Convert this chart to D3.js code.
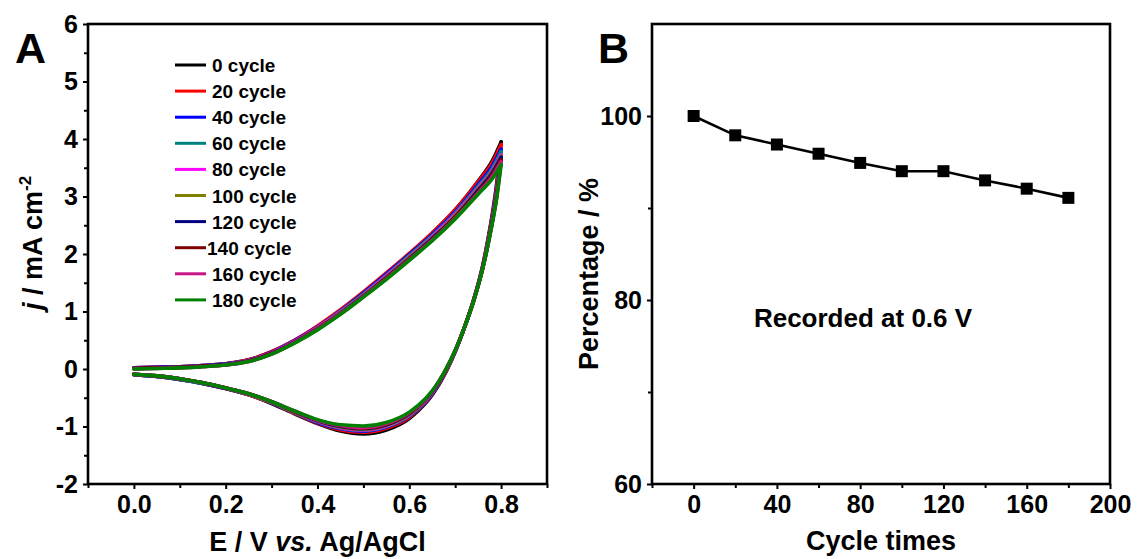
<!DOCTYPE html>
<html>
<head>
<meta charset="utf-8">
<script src="https://cdn.jsdelivr.net/npm/d3@7"></script>
<style>
  body { margin: 0; background: #fff; }
  text { font-family: "Liberation Sans", Arial, sans-serif; font-weight: bold; fill: #000; }
</style>
</head>
<body>
<script>
// data

// panel A: cyclic voltammograms
var cycles = [0, 20, 40, 60, 80, 100, 120, 140, 160, 180];
var cycleColors = ["#000000", "#ff0000", "#0000ff", "#008080", "#ff00ff", "#808000", "#000080", "#800000", "#c71585", "#008000"];

var scanUp = [0, 0.05, 0.1, 0.15, 0.2, 0.25, 0.3, 0.35, 0.4, 0.45, 0.5, 0.55, 0.6, 0.65, 0.7, 0.75, 0.78, 0.8];
var jUp = [
  [0.02,0.03,0.04,0.06,0.09,0.16,0.30,0.50,0.74,1.02,1.33,1.66,2.00,2.36,2.77,3.27,3.61,3.95],
  [0.02,0.03,0.04,0.06,0.09,0.16,0.30,0.50,0.75,1.03,1.34,1.67,2.01,2.37,2.77,3.26,3.58,3.90],
  [0.02,0.03,0.04,0.06,0.09,0.15,0.29,0.49,0.73,1.01,1.32,1.65,1.99,2.34,2.73,3.21,3.52,3.82],
  [0.01,0.02,0.03,0.05,0.08,0.15,0.28,0.48,0.72,1.00,1.30,1.63,1.97,2.32,2.71,3.18,3.48,3.78],
  [0.01,0.02,0.03,0.05,0.08,0.15,0.28,0.48,0.72,0.99,1.29,1.62,1.95,2.30,2.69,3.15,3.44,3.72],
  [0.01,0.02,0.03,0.05,0.08,0.14,0.27,0.47,0.71,0.98,1.28,1.60,1.94,2.28,2.67,3.13,3.42,3.70],
  [0.01,0.02,0.03,0.05,0.08,0.14,0.27,0.47,0.70,0.97,1.27,1.59,1.92,2.27,2.65,3.11,3.40,3.68],
  [0.01,0.02,0.03,0.05,0.07,0.14,0.27,0.46,0.70,0.96,1.26,1.58,1.91,2.25,2.64,3.08,3.37,3.64],
  [0.00,0.01,0.02,0.04,0.07,0.13,0.26,0.46,0.69,0.96,1.26,1.57,1.90,2.24,2.62,3.06,3.34,3.60],
  [0.00,0.01,0.02,0.04,0.07,0.13,0.26,0.45,0.68,0.95,1.25,1.56,1.89,2.23,2.61,3.04,3.30,3.55]
];

var scanDown = [0.8, 0.79, 0.78, 0.77, 0.76, 0.74, 0.72, 0.7, 0.68, 0.65, 0.62, 0.6, 0.55, 0.5, 0.45, 0.4, 0.35, 0.3, 0.25, 0.2, 0.15, 0.1, 0.05, 0];
var jDown = [
  [3.95,3.20,2.65,2.20,1.80,1.20,0.72,0.30,-0.05,-0.45,-0.72,-0.86,-1.06,-1.13,-1.08,-0.95,-0.78,-0.60,-0.45,-0.34,-0.25,-0.18,-0.13,-0.10],
  [3.90,3.16,2.62,2.18,1.79,1.20,0.72,0.31,-0.04,-0.44,-0.70,-0.84,-1.03,-1.10,-1.06,-0.94,-0.77,-0.59,-0.45,-0.34,-0.25,-0.18,-0.13,-0.10],
  [3.82,3.10,2.59,2.16,1.78,1.19,0.72,0.31,-0.03,-0.43,-0.69,-0.82,-1.01,-1.08,-1.04,-0.93,-0.76,-0.59,-0.44,-0.34,-0.25,-0.18,-0.13,-0.10],
  [3.78,3.07,2.57,2.15,1.77,1.19,0.72,0.31,-0.03,-0.42,-0.68,-0.81,-1.00,-1.07,-1.03,-0.92,-0.76,-0.58,-0.44,-0.33,-0.25,-0.18,-0.13,-0.10],
  [3.72,3.04,2.56,2.14,1.77,1.19,0.72,0.31,-0.02,-0.41,-0.67,-0.80,-0.99,-1.06,-1.02,-0.91,-0.75,-0.58,-0.44,-0.33,-0.24,-0.17,-0.12,-0.09],
  [3.70,3.02,2.55,2.13,1.76,1.18,0.72,0.32,-0.02,-0.40,-0.66,-0.79,-0.98,-1.05,-1.01,-0.90,-0.75,-0.58,-0.44,-0.33,-0.24,-0.17,-0.12,-0.09],
  [3.68,3.01,2.54,2.12,1.76,1.18,0.72,0.32,-0.01,-0.40,-0.65,-0.78,-0.97,-1.04,-1.00,-0.90,-0.74,-0.57,-0.43,-0.33,-0.24,-0.17,-0.12,-0.09],
  [3.64,2.99,2.53,2.12,1.76,1.18,0.72,0.32,-0.01,-0.39,-0.65,-0.77,-0.96,-1.03,-0.99,-0.89,-0.74,-0.57,-0.43,-0.33,-0.24,-0.17,-0.12,-0.09],
  [3.60,2.97,2.51,2.11,1.75,1.18,0.72,0.32,0.00,-0.39,-0.64,-0.76,-0.95,-1.02,-0.98,-0.89,-0.73,-0.57,-0.43,-0.33,-0.24,-0.17,-0.12,-0.09],
  [3.55,2.95,2.50,2.10,1.75,1.18,0.72,0.32,0.00,-0.38,-0.63,-0.75,-0.93,-0.99,-0.97,-0.88,-0.73,-0.57,-0.43,-0.33,-0.24,-0.17,-0.12,-0.09]
];

var potentialTicks = [0, 0.2, 0.4, 0.6, 0.8];
var currentTicks = [-2, -1, 0, 1, 2, 3, 4, 5, 6];

// panel B: retention
var retentionCycles = [0, 20, 40, 60, 80, 100, 120, 140, 160, 180];
var retention = [100, 97.9, 96.9, 95.9, 94.9, 94.0, 94.0, 93.0, 92.1, 91.1];
var cycleTicks = [0, 40, 80, 120, 160, 200];
var percentTicks = [60, 80, 100];

var width = 1138, height = 559;
var svg = d3.select("body").append("svg").attr("width", width).attr("height", height);

var plotTop = 24, plotBottom = 484;
var tickFont = 25, labelFont = 27;

// plain hyphen for negatives, like the original
function plain(d) { return String(d); }

function frame(g, x0, x1) {
  g.append("rect").attr("x", x0).attr("y", plotTop).attr("width", x1 - x0).attr("height", plotBottom - plotTop)
    .attr("fill", "none").attr("stroke", "#000").attr("stroke-width", 2.6);
}

function styleAxis(sel) {
  sel.select(".domain").remove();
  sel.selectAll(".tick line").attr("stroke", "#000").attr("stroke-width", 2);
  sel.selectAll(".tick text").style("font-size", tickFont + "px").style("font-family", '"Liberation Sans", Arial, sans-serif').style("font-weight", "bold").attr("fill", "#000");
}

// ---------- panel A ----------
var xA = d3.scaleLinear().domain([-0.1, 0.9]).range([88, 547]);
var yA = d3.scaleLinear().domain([-2, 6]).range([plotBottom, plotTop]);

var gA = svg.append("g");

gA.append("g").attr("transform", "translate(0," + plotBottom + ")")
  .call(d3.axisBottom(xA).tickValues([-0.1, 0.1, 0.3, 0.5, 0.7, 0.9]).tickSize(4).tickFormat(""))
  .call(styleAxis);
gA.append("g").attr("transform", "translate(88,0)")
  .call(d3.axisLeft(yA).tickValues([-1.5, -0.5, 0.5, 1.5, 2.5, 3.5, 4.5, 5.5]).tickSize(4).tickFormat(""))
  .call(styleAxis);

gA.append("g").attr("transform", "translate(0," + plotBottom + ")")
  .call(d3.axisBottom(xA).tickValues(potentialTicks).tickSize(5).tickPadding(6).tickFormat(d3.format(".1f")))
  .call(styleAxis);
gA.append("g").attr("transform", "translate(88,0)")
  .call(d3.axisLeft(yA).tickValues(currentTicks).tickSize(5).tickPadding(5).tickFormat(plain))
  .call(styleAxis);

var lineA = d3.line().x(function(d){ return xA(d[0]); }).y(function(d){ return yA(d[1]); })
  .curve(d3.curveMonotoneX);

cycles.forEach(function(c, i) {
  var up = scanUp.map(function(e, k){ return [e, jUp[i][k]]; });
  var down = scanDown.map(function(e, k){ return [e, jDown[i][k]]; }).reverse();
  [up, down].forEach(function(pts) {
    gA.append("path").attr("d", lineA(pts))
      .attr("fill", "none").attr("stroke", cycleColors[i]).attr("stroke-width", 3.6)
      .attr("stroke-linecap", "round").attr("stroke-linejoin", "round");
  });
});

frame(gA, 88, 547);

// legend
var legend = gA.append("g");
cycles.forEach(function(c, i) {
  var ly = 65 + i * 26.1;
  legend.append("line").attr("x1", 175).attr("x2", 206).attr("y1", ly).attr("y2", ly)
    .attr("stroke", cycleColors[i]).attr("stroke-width", 3);
  legend.append("text").attr("x", c == 140 ? 207 : 212).attr("y", ly + 7).style("font-size", "19px")
    .text(c + " cycle");
});

gA.append("text").attr("x", 15).attr("y", 63).style("font-size", "43px").text("A");

var xlabA = gA.append("text").attr("x", 317.5).attr("y", 551).attr("text-anchor", "middle").style("font-size", labelFont + "px");
xlabA.append("tspan").text("E / V ");
xlabA.append("tspan").style("font-style", "italic").text("vs.");
xlabA.append("tspan").text(" Ag/AgCl");

var ylabA = gA.append("text").attr("transform", "translate(42,243) rotate(-90)").attr("text-anchor", "middle").style("font-size", labelFont + "px");
ylabA.append("tspan").style("font-style", "italic").text("j");
ylabA.append("tspan").text(" / mA cm");
ylabA.append("tspan").attr("dy", -11).style("font-size", "17px").text("-2");

// ---------- panel B ----------
var xB = d3.scaleLinear().domain([-20, 200]).range([652, 1110]);
var yB = d3.scaleLinear().domain([60, 110]).range([plotBottom, plotTop]);

var gB = svg.append("g");

gB.append("g").attr("transform", "translate(0," + plotBottom + ")")
  .call(d3.axisBottom(xB).tickValues([-20, 20, 60, 100, 140, 180]).tickSize(4).tickFormat(""))
  .call(styleAxis);
gB.append("g").attr("transform", "translate(652,0)")
  .call(d3.axisLeft(yB).tickValues([70, 90]).tickSize(4).tickFormat(""))
  .call(styleAxis);

gB.append("g").attr("transform", "translate(0," + plotBottom + ")")
  .call(d3.axisBottom(xB).tickValues(cycleTicks).tickSize(5).tickPadding(6).tickFormat(plain))
  .call(styleAxis);
gB.append("g").attr("transform", "translate(652,0)")
  .call(d3.axisLeft(yB).tickValues(percentTicks).tickSize(5).tickPadding(5).tickFormat(plain))
  .call(styleAxis);

frame(gB, 652, 1110);

var lineB = d3.line().x(function(d, i){ return xB(retentionCycles[i]); }).y(function(d){ return yB(d); });
gB.append("path").attr("d", lineB(retention)).attr("fill", "none").attr("stroke", "#000").attr("stroke-width", 2.6);

gB.selectAll("rect.pt").data(retention).enter().append("rect").attr("class", "pt")
  .attr("x", function(d, i){ return xB(retentionCycles[i]) - 6; })
  .attr("y", function(d){ return yB(d) - 6; })
  .attr("width", 12).attr("height", 12).attr("fill", "#000");

gB.append("text").attr("x", 598).attr("y", 63).style("font-size", "43px").text("B");
gB.append("text").attr("x", 863).attr("y", 327).attr("text-anchor", "middle").style("font-size", "26px").text("Recorded at 0.6 V");
gB.append("text").attr("x", 881).attr("y", 550).attr("text-anchor", "middle").style("font-size", labelFont + "px").text("Cycle times");
gB.append("text").attr("transform", "translate(598,274) rotate(-90)").attr("text-anchor", "middle").style("font-size", labelFont + "px").text("Percentage / %");
</script>
</body>
</html>
